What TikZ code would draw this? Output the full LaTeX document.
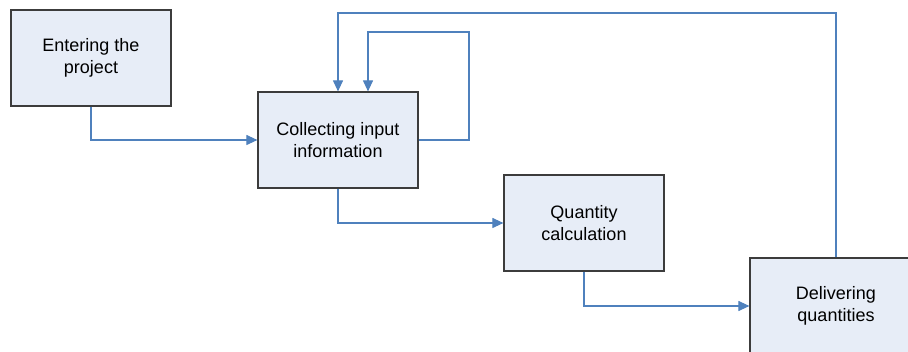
\documentclass[tikz,border=0pt]{standalone}
\usepackage{fontspec}
\setmainfont{Liberation Sans}
\usetikzlibrary{arrows.meta,positioning}
\definecolor{boxfill}{HTML}{E7EDF7}
\definecolor{boxline}{HTML}{3C3C3C}
\definecolor{flowblue}{HTML}{4F81BD}

\begin{document}
\begin{tikzpicture}[
  x=1pt, y=-1pt,
  font=\fontsize{18}{22}\selectfont,
  >={Triangle[length=11pt,width=10pt]},
  procbox/.style={draw=boxline, line width=1.2pt, fill=boxfill, align=center, minimum width=160pt, minimum height=96pt, inner sep=3pt},
  arr/.style={->, draw=flowblue, line width=1.1pt}
]
\clip (0,0) rectangle (908,352);
\node[procbox] (enter) at (91,58) {Entering the\\project};
\node[procbox] (collect) at (338,140) {Collecting input\\information};
\node[procbox] (calc) at (584,223) {Quantity\\calculation};
\node[procbox, minimum width=172pt] (deliver) at (836,306) {Delivering\\quantities};

\coordinate (loop) at (469,32);
\coordinate (top) at (338,13);

\draw[arr] (enter.south) |- (collect.west);
\draw[arr] (collect.east) -| (loop) -| ([xshift=30pt]collect.north);
\draw[arr] (collect.south) |- (calc.west);
\draw[arr] (calc.south) |- (deliver.west);
\draw[arr] (deliver.north) |- (top) -- (collect.north);
\end{tikzpicture}
\end{document}
